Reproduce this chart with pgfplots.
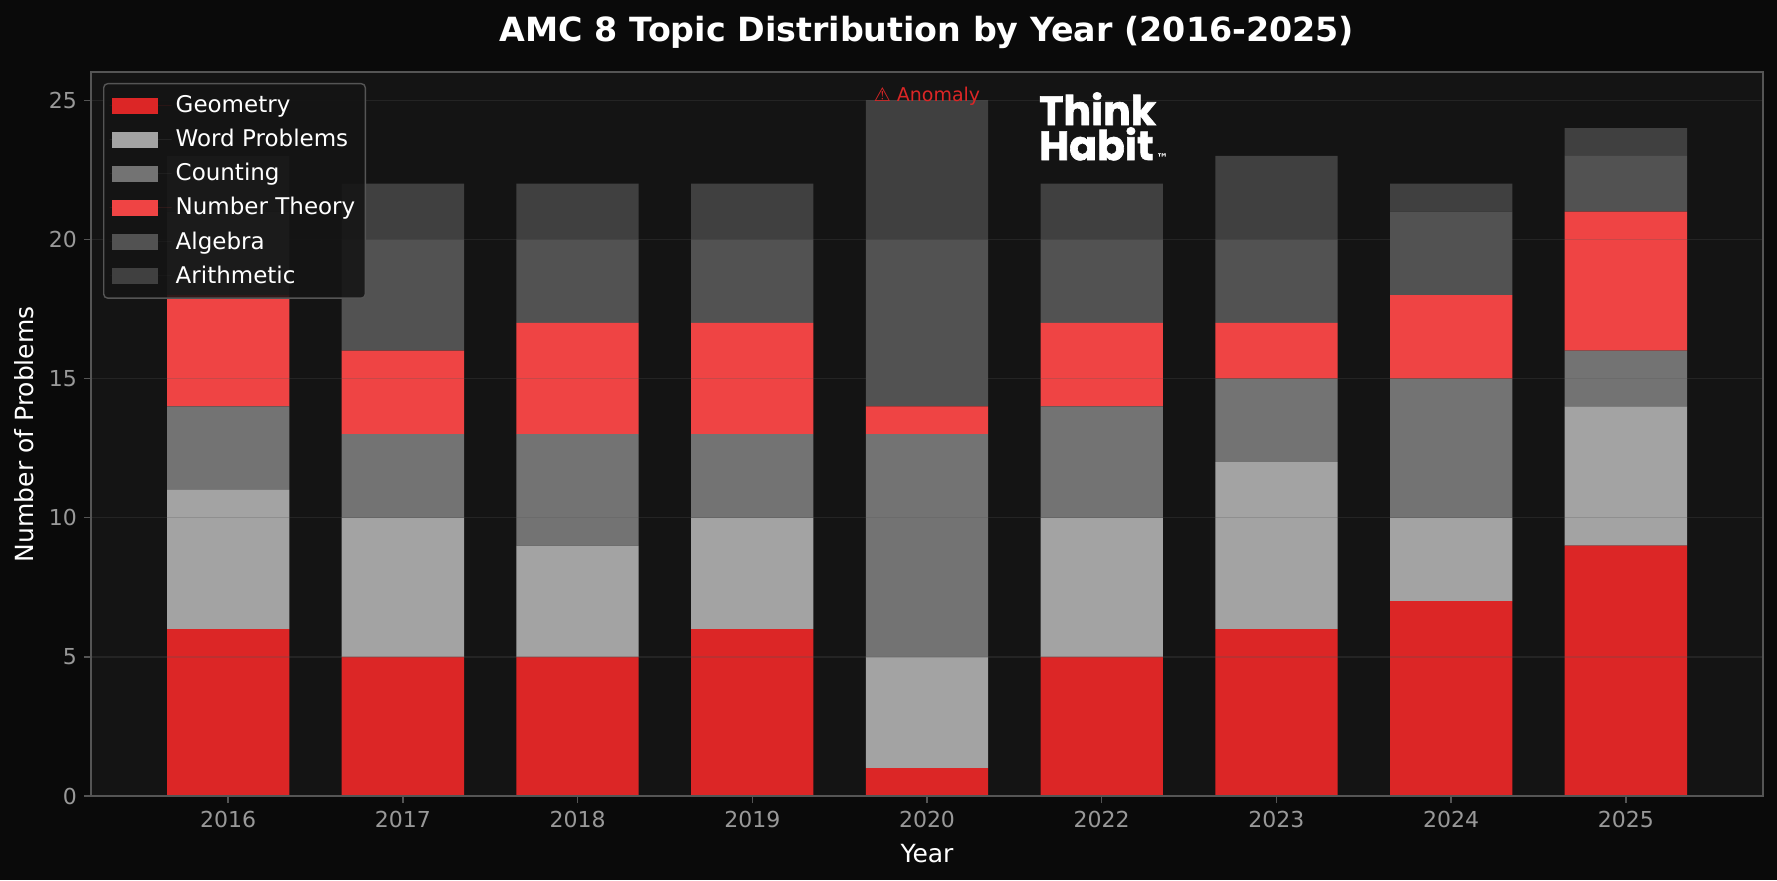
\documentclass[border=0pt]{standalone}
\usepackage{pgfplots}
\pgfplotsset{compat=1.18}
\usepackage{pgfplotstable}
\usepackage{fontspec}
\setmainfont{DejaVu Sans}
\newfontfamily\logofont[BoldFeatures={FakeBold=1.5}]{Poppins}
\definecolor{figbg}{HTML}{0A0A0A}
\definecolor{axbg}{HTML}{141414}
\definecolor{spine}{HTML}{555555}
\definecolor{ticktxt}{HTML}{999999}
\definecolor{geo}{HTML}{DC2626}
\definecolor{word}{HTML}{A3A3A3}
\definecolor{cnt}{HTML}{737373}
\definecolor{numth}{HTML}{EF4444}
\definecolor{alg}{HTML}{525252}
\definecolor{arith}{HTML}{404040}

\pgfplotstableread{
x geo word cnt num alg ari
0 6 5 3 4 3 2
1 5 5 3 3 4 2
2 5 4 4 4 3 2
3 6 4 3 4 3 2
4 1 4 8 1 6 5
5 5 5 4 3 3 2
6 6 6 3 2 3 3
7 7 3 5 3 3 1
8 9 5 2 5 2 1
}\amc

\begin{document}
\begin{tikzpicture}
\fill[figbg] (0,0) rectangle (888.5pt,440pt);
\useasboundingbox (0,0) rectangle (888.5pt,440pt);
\begin{axis}[
    at={(45.5pt,42pt)}, anchor=south west,
    scale only axis, width=836pt, height=361.8pt,
    axis background/.style={fill=axbg},
    axis line style={draw=spine, line width=1pt},
    axis on top,
    ybar stacked, bar width=0.7,
    xmin=-0.785, xmax=8.785, ymin=0, ymax=26,
    xtick={0,...,8},
    xticklabels={2016,2017,2018,2019,2020,2022,2023,2024,2025},
    ytick={0,5,...,25},
    tick align=outside, tick pos=lower,
    major tick length=3.5pt,
    tick style={draw=spine, line width=0.7pt},
    ymajorgrids, xmajorgrids=false,
    grid style={draw=spine, draw opacity=0.25, line width=0.7pt},
    ticklabel style={font=\fontsize{11}{13}\selectfont, text=ticktxt},
    xticklabel style={yshift=-0.6pt},
    /pgf/number format/assume math mode=true,
    xlabel={Year}, ylabel={Number of Problems},
    label style={font=\fontsize{12.5}{14}\selectfont, text=white},
    xlabel style={at={(axis description cs:0.5,0)}, anchor=north, yshift=-20.5pt},
    ylabel style={at={(axis description cs:0,0.5)}, anchor=south, yshift=25pt},
    title={\textbf{AMC 8 Topic Distribution by Year (2016-2025)}},
    title style={font=\fontsize{16.65}{19}\selectfont, text=white, at={(axis description cs:0.5,1)}, anchor=south, yshift=2.2pt},
    legend cell align=left,
    legend style={
        at={(6pt,356.5pt)}, anchor=north west,
        font=\fontsize{11.5}{14}\selectfont, text=white,
        fill=axbg, fill opacity=0.88, text opacity=1,
        draw=spine, draw opacity=1, line width=0.7pt, rounded corners=2pt,
        inner xsep=3pt, inner ysep=4pt,
        row sep=2.8pt,
    },
    legend image code/.code={
        \path (0pt,0pt) -- (31pt,0pt);
        \fill[#1, fill opacity=1, sharp corners] (1pt,-4pt) rectangle (24pt,4pt);
    },
    after end axis/.code={
        \node[font=\fontsize{9.5}{11}\selectfont, text=geo, anchor=base, inner sep=0pt] at (axis cs:4,24.97) {⚠ Anomaly};
        \node[font=\logofont\bfseries\fontsize{20.5}{17.5}\selectfont, text=white, anchor=north west, align=left, inner sep=0pt] at (axis cs:4.64,25.3) {Think\\Habit};
        \node[font=\fontsize{6}{7}\selectfont\bfseries, text=white, anchor=base west, inner sep=0pt] at (axis cs:5.31,22.75) {™};
    },
]
\addplot[fill=geo, draw=none] table[x=x, y=geo] {\amc};
\addplot[fill=word, draw=none] table[x=x, y=word] {\amc};
\addplot[fill=cnt, draw=none] table[x=x, y=cnt] {\amc};
\addplot[fill=numth, draw=none] table[x=x, y=num] {\amc};
\addplot[fill=alg, draw=none] table[x=x, y=alg] {\amc};
\addplot[fill=arith, draw=none] table[x=x, y=ari] {\amc};
\legend{Geometry, Word Problems, Counting, Number Theory, Algebra, Arithmetic}
\end{axis}
\end{tikzpicture}
\end{document}
